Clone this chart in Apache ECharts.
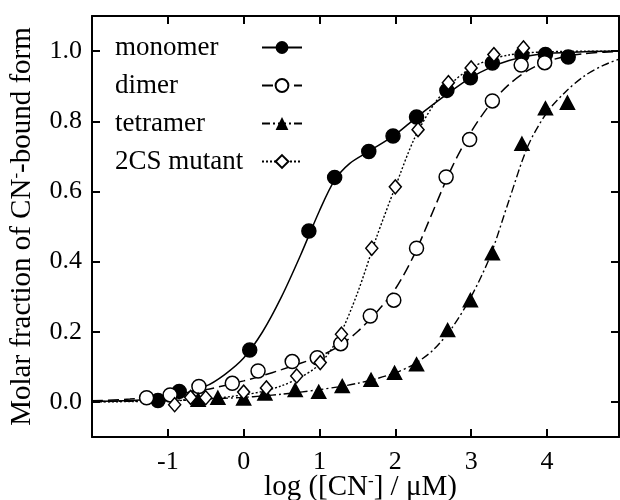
<!DOCTYPE html>
<html>
<head>
<meta charset="utf-8">
<script src="https://cdn.jsdelivr.net/npm/echarts@6/dist/echarts.min.js"></script>
<style>html,body{margin:0;padding:0;background:#fff}#c{width:620px;height:500px}</style>
</head>
<body>
<div id="c"></div>
<script>
// ---- tick labels ----
const xTicks = [-1, 0, 1, 2, 3, 4];
const yTicks = [0, 0.2, 0.4, 0.6, 0.8, 1.0];

// ---- measured points ----
const monomerX = [-1.13, -0.85, 0.08, 0.86, 1.20, 1.65, 1.97, 2.28, 2.68, 2.99, 3.28, 3.67, 3.98, 4.28];
const monomerY = [0.004, 0.03, 0.148, 0.487, 0.640, 0.714, 0.758, 0.812, 0.888, 0.924, 0.966, 0.989, 0.990, 0.983];

const dimerX = [-1.28, -0.97, -0.59, -0.15, 0.19, 0.64, 0.97, 1.28, 1.67, 1.98, 2.28, 2.67, 2.98, 3.28, 3.66, 3.97];
const dimerY = [0.012, 0.02, 0.044, 0.053, 0.088, 0.115, 0.126, 0.166, 0.245, 0.29, 0.438, 0.641, 0.748, 0.858, 0.96, 0.967];

const tetramerX = [-0.60, -0.34, 0.0, 0.28, 0.68, 0.99, 1.30, 1.68, 1.99, 2.28, 2.69, 2.99, 3.28, 3.67, 3.98, 4.27];
const tetramerY = [0.006, 0.012, 0.01, 0.024, 0.034, 0.029, 0.045, 0.063, 0.083, 0.107, 0.205, 0.29, 0.424, 0.736, 0.837, 0.853];

const mutantX = [-0.91, -0.70, -0.50, 0.0, 0.30, 0.70, 1.01, 1.29, 1.69, 2.00, 2.30, 2.70, 3.00, 3.30, 3.69];
const mutantY = [-0.008, 0.013, 0.012, 0.028, 0.04, 0.074, 0.112, 0.193, 0.438, 0.613, 0.776, 0.91, 0.952, 0.99, 1.009];

// ---- fitted curves ----
const monomerFitX = [-2, -1.5, -1, -0.5, -0.25, 0, 0.25, 0.5, 0.75, 1.0, 1.2, 1.4, 1.65, 2.0, 2.25, 2.5, 2.75, 3.0, 3.25, 3.5, 3.75, 4.0, 4.5, 4.95];
const monomerFit  = [0.001, 0.004, 0.013, 0.045, 0.078, 0.125, 0.2, 0.3, 0.418, 0.545, 0.632, 0.68, 0.714, 0.762, 0.806, 0.848, 0.888, 0.925, 0.953, 0.973, 0.986, 0.993, 0.998, 1.0];

const fitX = [-2, -1.5, -1, -0.5, 0, 0.25, 0.5, 0.75, 1, 1.25, 1.5, 1.75, 2, 2.25, 2.5, 2.75, 3, 3.25, 3.5, 3.75, 4, 4.25, 4.5, 4.75, 4.95];
const dimerFit    = [0.003, 0.008, 0.018, 0.035, 0.06, 0.075, 0.092, 0.11, 0.13, 0.158, 0.2, 0.255, 0.322, 0.42, 0.545, 0.67, 0.77, 0.848, 0.905, 0.945, 0.97, 0.985, 0.993, 0.997, 0.998];
const tetramerFit = [0.001, 0.002, 0.004, 0.008, 0.013, 0.017, 0.022, 0.028, 0.035, 0.043, 0.053, 0.066, 0.083, 0.108, 0.148, 0.212, 0.30, 0.415, 0.575, 0.73, 0.825, 0.885, 0.93, 0.96, 0.977];
const mutantFit   = [0.0, 0.001, 0.003, 0.008, 0.02, 0.03, 0.046, 0.07, 0.107, 0.183, 0.31, 0.468, 0.613, 0.75, 0.845, 0.91, 0.952, 0.976, 0.989, 0.995, 0.998, 0.999, 1.0, 1.0, 1.0];

const names = ['monomer', 'dimer', 'tetramer', '2CS mutant'];

function zip(xs, ys) { return xs.map((x, i) => [x, ys[i]]); }

const FONT = 'Liberation Serif';
const FS = 26;

const lineStyles = [
  { color: '#000', width: 1.5, type: 'solid' },
  { color: '#000', width: 1.5, type: [11, 5] },
  { color: '#000', width: 1.4, type: [8, 3, 2, 3] },
  { color: '#000', width: 1.4, type: [2, 2] }
];
const legendSymbols = ['circle', 'emptyCircle', 'triangle', 'emptyDiamond'];
const fitXs = [monomerFitX, fitX, fitX, fitX];
const fits = [monomerFit, dimerFit, tetramerFit, mutantFit];
const ptsX = [monomerX, dimerX, tetramerX, mutantX];
const ptsY = [monomerY, dimerY, tetramerY, mutantY];
const ptSymbols = ['circle', 'circle', 'triangle', 'diamond'];
const ptFill = ['#000', '#fff', '#000', '#fff'];
const ptSize = [[14, 14], [14, 14], [14, 13], [12, 14]];

const series = [];
names.forEach((n, i) => {
  series.push({
    name: n, type: 'line', data: zip(fitXs[i], fits[i]),
    smooth: 0.3, showSymbol: false,
    symbol: legendSymbols[i], symbolSize: 13,
    itemStyle: { color: '#000' },
    lineStyle: lineStyles[i], z: 2, silent: true
  });
});
names.forEach((n, i) => {
  series.push({
    name: n + ' data', type: 'scatter', data: zip(ptsX[i], ptsY[i]),
    symbol: ptSymbols[i], symbolSize: ptSize[i],
    itemStyle: { color: ptFill[i], borderColor: '#000', borderWidth: 1.5, opacity: 1 },
    z: 3, silent: true
  });
});

const axisLineStyle = { color: '#000', width: 2 };
const TFS = 29;
const rich = {
  a: { fontFamily: FONT, fontSize: TFS, color: '#000' },
  s: { fontFamily: FONT, fontSize: 17, color: '#000', verticalAlign: 'top' }
};

const option = {
  animation: false,
  backgroundColor: '#fff',
  grid: { left: 92, right: 1, top: 16, bottom: 63, outerBoundsMode: 'none' },
  legend: {
    data: names,
    orient: 'vertical', align: 'right',
    left: 110, top: 29,
    itemWidth: 40, itemHeight: 16, itemGap: 11,
    formatter: '{t|{name}}',
    textStyle: {
      fontFamily: FONT, fontSize: 27, color: '#000', lineHeight: 26,
      rich: { t: { fontFamily: FONT, fontSize: 27, color: '#000', width: 142, align: 'left', lineHeight: 26 } }
    },
    selectedMode: false
  },
  xAxis: [{
    type: 'value', position: 'bottom', min: -2, max: 4.95, interval: 1,
    axisLine: { show: true, onZero: false, lineStyle: axisLineStyle },
    axisTick: { show: true, inside: true, length: 8, lineStyle: { color: '#000', width: 2 }, customValues: xTicks },
    axisLabel: { customValues: xTicks, fontFamily: FONT, fontSize: FS, color: '#000', margin: 12 },
    splitLine: { show: false },
    name: '{a|log ([CN}{s|-}{a|] / μM)}',
    nameLocation: 'middle', nameGap: 36, nameMoveOverlap: false,
    nameTextStyle: { rich: rich, padding: [0, 0, 0, 10] }
  }, {
    type: 'value', position: 'top', min: -2, max: 4.95, interval: 1,
    axisLine: { show: true, onZero: false, lineStyle: axisLineStyle },
    axisTick: { show: true, inside: true, length: 8, lineStyle: { color: '#000', width: 2 }, customValues: xTicks },
    axisLabel: { show: false },
    splitLine: { show: false }
  }],
  yAxis: [{
    type: 'value', position: 'left', min: -0.1, max: 1.1,
    axisLine: { show: true, onZero: false, lineStyle: axisLineStyle },
    axisTick: { show: true, inside: true, length: 8, lineStyle: { color: '#000', width: 2 }, customValues: yTicks },
    axisLabel: { customValues: yTicks, formatter: v => v.toFixed(1), fontFamily: FONT, fontSize: FS, color: '#000', margin: 10 },
    splitLine: { show: false },
    name: '{a|Molar fraction of CN}{s|-}{a|-bound form}',
    nameLocation: 'middle', nameGap: 55, nameMoveOverlap: false,
    nameTextStyle: { rich: rich }
  }, {
    type: 'value', position: 'right', min: -0.1, max: 1.1,
    axisLine: { show: true, onZero: false, lineStyle: axisLineStyle },
    axisTick: { show: true, inside: true, length: 8, lineStyle: { color: '#000', width: 2 }, customValues: yTicks },
    axisLabel: { show: false },
    splitLine: { show: false }
  }],
  series: series
};

const chart = echarts.init(document.getElementById('c'), null, { renderer: 'canvas' });
chart.setOption(option);
</script>
</body>
</html>
